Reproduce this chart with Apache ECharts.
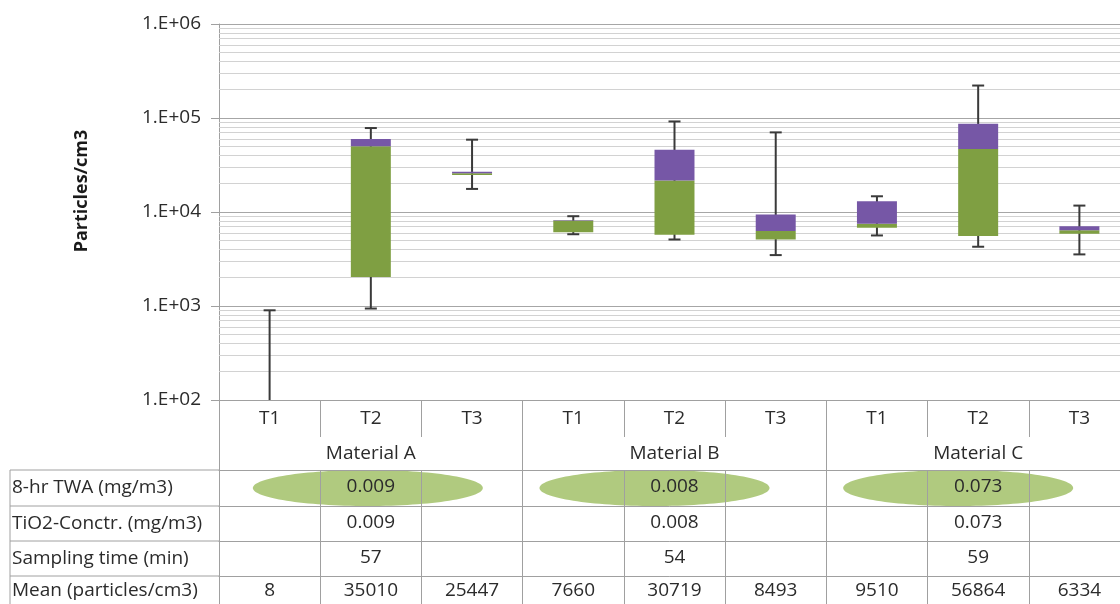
<!DOCTYPE html>
<html>
<head>
<meta charset="utf-8">
<script src="https://cdn.jsdelivr.net/npm/echarts@6/dist/echarts.min.js"></script>
<style>
html, body { margin: 0; padding: 0; background: #fff; }
#chart { width: 1120px; height: 604px; }
</style>
</head>
<body>
<div id="chart"></div>
<script>
var categories = ['T1', 'T2', 'T3', 'T1', 'T2', 'T3', 'T1', 'T2', 'T3'];
var materials = ['', 'Material A', '', '', 'Material B', '', '', 'Material C', ''];

// box plot values (particles/cm3)
var lowVals  = [1, 940, 17600, 5800, 5100, 3480, 5630, 4270, 3540];
var q1Vals   = [2, 2030, 24800, 6100, 5730, 5110, 6800, 5540, 5870];
var medVals  = [3, 50000, 25800, 8100, 21600, 6260, 7500, 46800, 6410];
var q3Vals   = [5, 59800, 26800, 8200, 46000, 9410, 13000, 86900, 7070];
var highVals = [900, 78200, 58800, 9020, 91900, 70300, 14700, 221500, 11700];

// table rows
var rowLabels = ['8-hr TWA (mg/m3)', 'TiO2-Conctr. (mg/m3)', 'Sampling time (min)', 'Mean (particles/cm3)'];
var twaRow      = ['', '0.009', '', '', '0.008', '', '', '0.073', ''];
var tio2Row     = ['', '0.009', '', '', '0.008', '', '', '0.073', ''];
var samplingRow = ['', '57', '', '', '54', '', '', '59', ''];
var meanRow     = ['8', '35010', '25447', '7660', '30719', '8493', '9510', '56864', '6334'];

var font = 'Open Sans';
var textColor = '#2b2b2b';
var lineGray = '#a0a0a0';
var green = '#7f9f42';
var purple = '#7657a6';
var fs = 19;

var boxData = categories.map(function (c, i) {
  return [i, lowVals[i], q1Vals[i], medVals[i], q3Vals[i], highVals[i]];
});

var minorLines = [];
for (var e = 2; e < 6; e++) {
  for (var k = 2; k < 10; k++) {
    minorLines.push({ yAxis: k * Math.pow(10, e) });
  }
}

function rowAxis(data, offset, tickLen, showLine, tickInterval, margin) {
  return {
    type: 'category',
    data: data,
    position: 'bottom',
    offset: offset,
    boundaryGap: true,
    axisLine: { show: showLine, lineStyle: { color: lineGray } },
    axisTick: { show: true, interval: tickInterval, length: tickLen, lineStyle: { color: lineGray } },
    axisLabel: { interval: 0, margin: margin, color: textColor, fontSize: fs, fontFamily: font },
    splitLine: { show: false }
  };
}

var chart = echarts.init(document.getElementById('chart'));

var option = {
  animation: false,
  grid: { left: 219, top: 24, width: 911, height: 376, containLabel: false, outerBoundsMode: 'none' },
  xAxis: [
    rowAxis(categories, 0, 37, true, 0, 9),
    rowAxis(materials, 37, 167, false, function (i) { return i % 3 === 0; }, 7),
    rowAxis(twaRow, 70, 36, true, 0, 7),
    rowAxis(tio2Row, 106, 35, true, 0, 7),
    rowAxis(samplingRow, 141, 35, true, 0, 7),
    rowAxis(meanRow, 176, 30, true, 0, 5)
  ],
  yAxis: {
    type: 'log',
    logBase: 10,
    min: 100,
    max: 1000000,
    interval: 1,
    name: 'Particles/cm3',
    nameLocation: 'middle',
    nameGap: 128,
    nameTextStyle: { fontFamily: font, fontSize: 18, fontWeight: 'bold', color: '#1a1a1a', padding: [0, 0, 0, 42] },
    axisLine: { show: true, lineStyle: { color: lineGray } },
    axisTick: { show: true, length: 8, lineStyle: { color: lineGray } },
    axisLabel: {
      margin: 18,
      color: textColor,
      fontSize: fs,
      fontFamily: font,
      formatter: function (v) {
        var p = Math.round(Math.log10(v));
        return '1.E+' + (p < 10 ? '0' : '') + p;
      }
    },
    splitLine: { show: true, lineStyle: { color: '#a6a6a6', width: 1 } }
  },
  series: [
    {
      type: 'line',
      data: categories.map(function () { return null; }),
      silent: true,
      z: 1,
      markLine: {
        silent: true,
        z: 1,
        symbol: ['none', 'none'],
        label: { show: false },
        lineStyle: { color: '#d2d2d2', width: 1, type: 'solid' },
        emphasis: { disabled: true },
        data: minorLines
      }
    },
    {
      type: 'custom',
      clip: true,
      z: 6,
      data: boxData,
      renderItem: function (params, api) {
        var i = api.value(0);
        var pLow = api.coord([i, api.value(1)]);
        var pQ1 = api.coord([i, api.value(2)]);
        var pMed = api.coord([i, api.value(3)]);
        var pQ3 = api.coord([i, api.value(4)]);
        var pHigh = api.coord([i, api.value(5)]);
        var x = pLow[0];
        var bw = api.size([1, 0])[0] * 0.395;
        var cw = 12;
        var ws = { stroke: '#3a3a3a', lineWidth: 2 };
        return {
          type: 'group',
          children: [
            { type: 'line', shape: { x1: x, y1: pLow[1], x2: x, y2: pHigh[1] }, style: ws },
            { type: 'line', shape: { x1: x - cw / 2, y1: pHigh[1], x2: x + cw / 2, y2: pHigh[1] }, style: ws },
            { type: 'line', shape: { x1: x - cw / 2, y1: pLow[1], x2: x + cw / 2, y2: pLow[1] }, style: ws },
            { type: 'rect', shape: { x: x - bw / 2, y: pMed[1], width: bw, height: pQ1[1] - pMed[1] }, style: { fill: green } },
            { type: 'rect', shape: { x: x - bw / 2, y: pQ3[1], width: bw, height: pMed[1] - pQ3[1] }, style: { fill: purple } }
          ]
        };
      }
    }
  ]
};

chart.setOption(option);

// row label column and highlight ellipses of the table
var rowTops = [470, 506, 541, 576];
var graphics = [];
graphics.push({ type: 'line', shape: { x1: 10, y1: 470, x2: 10, y2: 604 }, style: { stroke: lineGray, lineWidth: 1 }, silent: true });
rowTops.forEach(function (y, r) {
  graphics.push({ type: 'line', shape: { x1: 10, y1: y, x2: 219, y2: y }, style: { stroke: lineGray, lineWidth: 1 }, silent: true });
  graphics.push({
    type: 'text', x: 12, y: y + (r === 3 ? 15 : 18), silent: true,
    style: { text: rowLabels[r], fontFamily: font, fontSize: fs, fill: textColor, verticalAlign: 'middle', align: 'left' }
  });
});
var ellipseShift = [-3, -20, -20];
var n = 0;
twaRow.forEach(function (v, i) {
  if (!v) return;
  var cx = chart.convertToPixel({ xAxisIndex: 0 }, i) + ellipseShift[n++];
  graphics.push({
    type: 'ellipse', z: -1, silent: true,
    shape: { cx: cx, cy: 488, rx: 115, ry: 18 },
    style: { fill: 'rgba(150,184,84,0.75)' }
  });
});
chart.setOption({ graphic: graphics });
</script>
</body>
</html>
